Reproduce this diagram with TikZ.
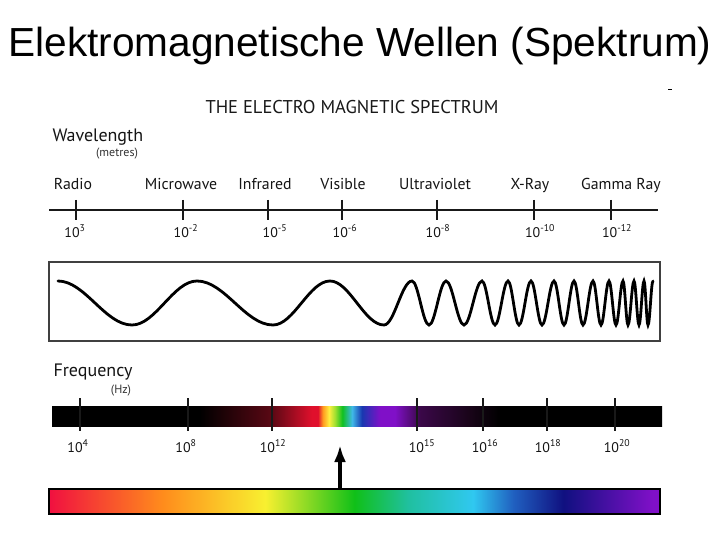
\documentclass[tikz,border=0pt]{standalone}
\usepackage{fontspec}
\setmainfont{Liberation Sans}
\newfontfamily\labelfont{PT Sans}
\usetikzlibrary{arrows.meta}

% colours of the two bars
\definecolor{darkred}{HTML}{5A0814}
\definecolor{specred}{HTML}{E0102C}
\definecolor{specorange}{HTML}{FF9A20}
\definecolor{specyellow}{HTML}{FFEE40}
\definecolor{speclime}{HTML}{A0E030}
\definecolor{specgreen}{HTML}{10C020}
\definecolor{speccyan}{HTML}{40B8E8}
\definecolor{specblue}{HTML}{1838B0}
\definecolor{specviolet}{HTML}{8010C8}
\definecolor{darkpurple}{HTML}{3A0848}
\definecolor{nearblack}{HTML}{180418}
\definecolor{visred}{HTML}{F01040}
\definecolor{visorange}{HTML}{FF8C1C}
\definecolor{visyellow}{HTML}{F8F030}
\definecolor{visgreen}{HTML}{10C018}
\definecolor{visteal}{HTML}{20C0A0}
\definecolor{viscyan}{HTML}{30C8F0}
\definecolor{visblue}{HTML}{2060C0}
\definecolor{visnavy}{HTML}{101080}

\pgfdeclarehorizontalshading{freqbar}{100bp}{color(0bp)=(black); color(37.1bp)=(black);
  color(43.0bp)=(darkred); color(46.3bp)=(specred); color(46.8bp)=(specred);
  color(47.2bp)=(specorange); color(47.7bp)=(specyellow); color(48.2bp)=(speclime);
  color(48.8bp)=(specgreen); color(49.6bp)=(speccyan); color(50.4bp)=(specblue);
  color(51.9bp)=(specviolet); color(53.1bp)=(specviolet); color(55.2bp)=(darkpurple);
  color(59.3bp)=(nearblack); color(61.7bp)=(black); color(100bp)=(black)}
\pgfdeclarehorizontalshading{visbar}{100bp}{color(0bp)=(visred); color(25bp)=(visred);
  color(34.3bp)=(visorange); color(42.7bp)=(visyellow); color(50.0bp)=(visgreen);
  color(54.4bp)=(visteal); color(59.7bp)=(viscyan); color(63.0bp)=(visblue);
  color(67.1bp)=(visnavy); color(74.4bp)=(specviolet); color(100bp)=(specviolet)}

\begin{document}
\begin{tikzpicture}[x=1pt, y=-1pt,
    band/.style={font=\labelfont\fontsize{15.8}{18}\selectfont, anchor=base, text=black!92},
    power/.style={font=\labelfont\fontsize{14}{17}\selectfont, anchor=base, text=black!92},
    heading/.style={font=\labelfont\fontsize{18}{21}\selectfont, anchor=base west, text=black!92},
    unit/.style={font=\labelfont\fontsize{12}{14}\selectfont, anchor=base, text=black!80},
    tickmark/.style={line width=2.8pt, black!90}]

    \useasboundingbox (0,0) rectangle (720,540);

    % Title
    \node[font=\fontsize{40.6}{44}\selectfont, anchor=base] (title) at (360,57)
        {Elektromagnetische Wellen (Spektrum)};
    \draw[line width=1pt] (668,90) -- (672,90);

    % Chart heading
    \node[font=\labelfont\fontsize{18.5}{22}\selectfont, anchor=base, text=black!90] (chart)
        at (352,114) {THE ELECTRO MAGNETIC SPECTRUM};

    % Wavelength axis
    \node[heading] (wavelength) at (49,142) {Wavelength};
    \node[unit] (metres) at (117,157) {(metres)};
    \draw[line width=1.4pt, black!90] (49,210) -- (658,210);
    \foreach \x/\xb/\band/\xe/\ex in {76/73/Radio/75/3, 183/181/Microwave/186/-2,
            268/265/Infrared/275/-5, 342/343/Visible/345/-6, 437/435/Ultraviolet/438/-8,
            534/530/X-Ray/540/-10, 611/621/Gamma Ray/617/-12}
    {
        \draw[tickmark] (\x,200) -- (\x,220);
        \node[band] (band\x) at (\xb,190) {\band};
        \node[power] (wl\x) at (\xe,237) {10\textsuperscript{\ex}};
    }

    % Wave box
    \draw[line width=1.3pt, black!75] (49,262) rectangle (660,341);
    \draw[line width=2.8pt, line cap=round] (58,281)
        \foreach \x/\y [remember=\x as \px (initially 58)] in {132/325, 197/281, 273/325,
            330/281, 384/325, 412/281, 429/325, 446/281, 464/325, 482/281, 495/325,
            508/281, 519/325, 531/281, 542/325, 554/281, 564/325, 574/281, 583/325,
            593/281, 601/325, 609/281, 616/325, 623/281, 628/325, 634/281, 639/325,
            644/281, 648/325, 653/281}
        { cos ({(\px+\x)/2},303) sin (\x,\y) };

    % Frequency axis
    \node[heading] (frequency) at (50,376) {Frequency};
    \node[unit] (hertz) at (121,393) {(Hz)};
    \shade[shading=freqbar] (52,406) rectangle (662,426);
    \foreach \x/\xl/\ex in {80/78/4, 188/186/8, 272/273/12, 417/422/15,
            483/485/16, 547/548/18, 615/617/20}
    {
        \draw[tickmark] (\x,398) -- (\x,431);
        \node[power] (fq\x) at (\xl,452) {10\textsuperscript{\ex}};
    }

    % Visible light bar
    \shade[shading=visbar] (49,489) rectangle (660,514);
    \draw[line width=1.3pt] (49,489) rectangle (660,514);
    \coordinate (visfoot) at (340,489);
    \coordinate (vistip) at (340,445);
    \draw[-{Latex[length=17pt, width=12pt]}, line width=3.5pt] (visfoot) -- (vistip);

\end{tikzpicture}
\end{document}
